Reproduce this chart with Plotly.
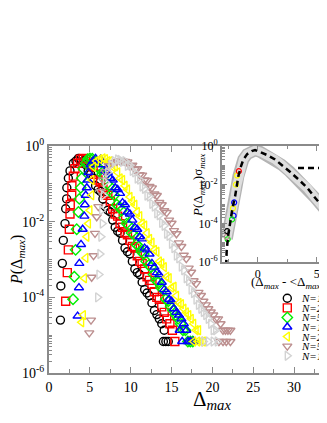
import plotly.graph_objects as go

# distribution of the largest gap Delta_max, one list of (Delta_max, P) per system size
n100 = [(1.40, 2.5e-5), (1.45, 2.0e-4), (1.63, 7.9e-4), (1.75, 3.2e-3), (1.96, 8.9e-3), (2.04, 2.2e-2),
        (2.16, 4.0e-2), (2.18, 7.9e-2), (2.37, 1.4e-1), (2.57, 2.2e-1), (2.98, 3.5e-1), (3.30, 4.0e-1),
        (3.60, 4.7e-1), (3.9, 4.5e-1), (4.2, 4.0e-1), (4.5, 3.2e-1), (4.8, 2.2e-1), (5.1, 1.8e-1),
        (5.4, 1.4e-1), (5.7, 8.9e-2), (6.0, 7.1e-2), (6.3, 6.3e-2), (6.6, 4.0e-2), (6.9, 2.5e-2),
        (7.2, 2.0e-2), (7.5, 1.8e-2), (7.8, 1.1e-2), (8.1, 7.1e-3), (8.4, 5.6e-3), (8.7, 5.0e-3),
        (9.0, 3.2e-3), (9.3, 2.0e-3), (9.6, 1.6e-3), (9.9, 1.4e-3), (10.2, 8.9e-4), (10.5, 5.6e-4),
        (10.8, 4.5e-4), (11.1, 4.0e-4), (11.4, 2.5e-4), (11.7, 1.6e-4), (12.0, 1.3e-4), (12.3, 1.1e-4),
        (12.6, 7.1e-5), (12.9, 4.5e-5), (13.2, 3.5e-5), (13.5, 2.7e-5), (13.8, 2.0e-5), (14.1, 1.35e-5),
        (14.0, 6.8e-6), (14.3, 6.8e-6), (14.6, 6.8e-6)]

n200 = [(2.04, 7.9e-5), (2.24, 4.5e-4), (2.37, 1.8e-3), (2.49, 6.3e-3), (2.57, 1.6e-2), (2.60, 2.8e-2),
        (2.78, 5.0e-2), (2.80, 8.9e-2), (2.98, 1.6e-1), (3.18, 2.5e-1), (3.50, 3.5e-1), (3.85, 4.5e-1),
        (4.20, 4.7e-1), (4.5, 4.5e-1), (4.8, 3.5e-1), (5.1, 3.2e-1), (5.4, 2.8e-1), (5.7, 1.8e-1),
        (6.0, 1.26e-1), (6.3, 1.12e-1), (6.6, 7.9e-2), (6.9, 5.6e-2), (7.2, 5.0e-2), (7.5, 3.5e-2),
        (7.8, 2.2e-2), (8.1, 1.6e-2), (8.4, 1.4e-2), (8.7, 8.9e-3), (9.0, 7.1e-3), (9.3, 5.0e-3),
        (9.6, 4.5e-3), (9.9, 3.2e-3), (10.2, 2.2e-3), (10.5, 2.0e-3), (10.8, 1.26e-3), (11.1, 8.9e-4),
        (11.4, 7.9e-4), (11.7, 5.6e-4), (12.0, 3.5e-4), (12.3, 2.8e-4), (12.6, 2.2e-4), (12.9, 1.4e-4),
        (13.2, 1.0e-4), (13.5, 8.9e-5), (13.8, 5.6e-5), (14.1, 4.0e-5), (14.4, 2.7e-5), (14.8, 2.0e-5),
        (15.1, 1.35e-5), (15.4, 6.8e-6)]

n500 = [(2.94, 8.9e-5), (3.10, 3.5e-4), (3.26, 1.8e-3), (3.39, 6.3e-3), (3.60, 1.8e-2), (3.71, 4.0e-2),
        (3.88, 7.9e-2), (4.00, 1.4e-1), (4.20, 2.5e-1), (4.50, 3.5e-1), (4.75, 4.5e-1), (5.00, 4.7e-1),
        (5.3, 4.6e-1), (5.6, 4.0e-1), (5.9, 2.8e-1), (6.2, 2.5e-1), (6.5, 1.8e-1), (6.8, 1.6e-1),
        (7.1, 1.0e-1), (7.4, 8.9e-2), (7.7, 5.6e-2), (8.0, 5.0e-2), (8.3, 2.8e-2), (8.6, 2.5e-2),
        (8.9, 2.0e-2), (9.2, 1.26e-2), (9.5, 8.9e-3), (9.8, 7.9e-3), (10.1, 5.0e-3), (10.4, 4.5e-3),
        (10.7, 2.5e-3), (11.0, 2.2e-3), (11.3, 1.6e-3), (11.6, 1.4e-3), (11.9, 8.9e-4), (12.2, 7.1e-4),
        (12.5, 6.3e-4), (12.8, 4.0e-4), (13.1, 2.8e-4), (13.4, 2.5e-4), (13.7, 1.8e-4), (14.0, 1.6e-4),
        (14.3, 8.9e-5), (14.6, 7.9e-5), (14.9, 5.6e-5), (15.2, 4.5e-5), (15.5, 3.4e-5), (15.8, 2.7e-5),
        (16.1, 2.0e-5), (16.4, 1.35e-5), (16.7, 1.35e-5), (17.0, 6.8e-6), (17.3, 6.8e-6), (17.6, 6.8e-6)]

n1000 = [(3.50, 3.2e-5), (3.67, 1.8e-4), (3.71, 7.9e-4), (3.92, 2.5e-3), (4.12, 6.3e-3), (4.33, 1.4e-2),
         (4.40, 2.8e-2), (4.50, 5.0e-2), (4.63, 7.9e-2), (4.72, 1.26e-1), (4.82, 2.0e-1), (5.10, 3.2e-1),
         (5.40, 4.0e-1), (5.70, 4.7e-1), (6.0, 4.0e-1), (6.3, 4.5e-1), (6.6, 3.2e-1), (6.9, 2.2e-1),
         (7.2, 2.0e-1), (7.5, 1.4e-1), (7.8, 1.26e-1), (8.1, 7.9e-2), (8.4, 7.1e-2), (8.7, 5.6e-2),
         (9.0, 3.2e-2), (9.3, 2.8e-2), (9.6, 1.8e-2), (9.9, 1.6e-2), (10.2, 1.1e-2), (10.5, 7.1e-3),
         (10.8, 6.3e-3), (11.1, 4.0e-3), (11.4, 3.5e-3), (11.7, 2.0e-3), (12.0, 1.8e-3), (12.3, 1.4e-3),
         (12.6, 7.9e-4), (12.9, 6.3e-4), (13.2, 4.5e-4), (13.5, 4.0e-4), (13.8, 2.5e-4), (14.1, 1.6e-4),
         (14.4, 1.4e-4), (14.7, 8.9e-5), (15.0, 7.9e-5), (15.3, 5.0e-5), (15.6, 4.0e-5), (15.9, 3.4e-5),
         (16.2, 2.7e-5), (16.5, 2.0e-5), (16.0, 1.35e-5), (16.8, 1.35e-5), (16.3, 6.8e-6), (17.0, 6.8e-6),
         (17.3, 6.8e-6), (17.7, 6.8e-6)]

n2000 = [(3.99, 2.2e-5), (4.20, 3.4e-5), (4.33, 3.2e-4), (4.50, 1.1e-3), (4.62, 4.0e-3), (4.82, 8.9e-3),
         (5.00, 2.0e-2), (5.22, 5.0e-2), (5.25, 1.26e-1), (5.43, 2.8e-1), (5.80, 4.0e-1), (6.20, 4.5e-1),
         (6.60, 4.7e-1), (6.9, 4.5e-1), (7.2, 4.0e-1), (7.5, 4.0e-1), (7.8, 2.8e-1), (8.1, 2.9e-1),
         (8.4, 2.0e-1), (8.7, 1.4e-1), (9.0, 1.26e-1), (9.3, 8.9e-2), (9.6, 7.1e-2), (9.9, 4.5e-2),
         (10.2, 3.5e-2), (10.5, 2.8e-2), (10.8, 1.8e-2), (11.1, 1.4e-2), (11.4, 8.9e-3), (11.7, 7.9e-3),
         (12.0, 5.0e-3), (12.3, 3.5e-3), (12.6, 2.8e-3), (12.9, 1.8e-3), (13.2, 1.6e-3), (13.5, 8.9e-4),
         (13.8, 7.9e-4), (14.1, 6.3e-4), (14.4, 3.5e-4), (14.7, 3.2e-4), (15.0, 1.8e-4), (15.3, 1.9e-4),
         (15.6, 1.1e-4), (15.9, 7.1e-5), (16.2, 6.6e-5), (16.5, 5.0e-5), (16.8, 4.0e-5), (17.1, 3.4e-5),
         (17.4, 2.7e-5), (17.7, 2.0e-5), (18.0, 1.35e-5), (18.3, 1.35e-5), (17.7, 6.8e-6), (18.2, 6.8e-6),
         (18.6, 6.8e-6), (18.9, 6.8e-6)]

n5000 = [(4.93, 1.15e-5), (5.14, 2.5e-5), (5.22, 3.4e-4), (5.45, 1.26e-3), (5.63, 4.9e-3), (5.84, 1.35e-2),
         (6.04, 2.5e-2), (6.30, 6.3e-2), (6.60, 1.26e-1), (6.90, 2.1e-1), (7.30, 3.0e-1), (7.80, 3.6e-1),
         (8.30, 3.9e-1), (8.70, 4.0e-1), (9.0, 4.0e-1), (9.3, 3.9e-1), (9.6, 3.8e-1), (9.9, 3.0e-1),
         (10.2, 3.1e-1), (10.5, 2.4e-1), (10.8, 2.5e-1), (11.1, 1.74e-1), (11.4, 1.7e-1), (11.7, 1.26e-1),
         (12.0, 1.23e-1), (12.3, 8.5e-2), (12.6, 7.8e-2), (12.9, 5.4e-2), (13.2, 4.9e-2), (13.5, 3.2e-2),
         (13.8, 2.8e-2), (14.1, 1.95e-2), (14.4, 1.74e-2), (14.7, 1.1e-2), (15.0, 9.1e-3), (15.3, 5.8e-3),
         (15.6, 4.8e-3), (15.9, 2.75e-3), (16.2, 2.2e-3), (16.5, 1.3e-3), (16.8, 1.05e-3), (17.1, 5.9e-4),
         (17.4, 4.6e-4), (17.7, 2.75e-4), (18.0, 2.3e-4), (18.3, 1.35e-4), (18.6, 1.12e-4), (18.9, 7.9e-5),
         (19.2, 6.3e-5), (19.5, 5.0e-5), (19.8, 4.1e-5), (20.1, 3.4e-5), (20.4, 2.7e-5), (20.7, 2.7e-5),
         (21.0, 2.0e-5), (21.3, 1.35e-5), (21.6, 1.35e-5), (21.9, 1.35e-5), (22.2, 1.35e-5),
         (20.8, 6.8e-6), (21.3, 6.8e-6), (21.7, 6.8e-6), (22.2, 6.8e-6)]

n10000 = [(5.96, 1.0e-4), (6.12, 4.0e-4), (6.24, 1.4e-3), (6.36, 4.0e-3), (6.53, 8.9e-3), (6.45, 2.0e-2),
          (6.65, 5.0e-2), (6.90, 1.1e-1), (7.20, 2.0e-1), (7.60, 3.2e-1), (8.00, 4.0e-1), (8.40, 4.4e-1),
          (8.7, 4.3e-1), (9.0, 3.8e-1), (9.3, 4.0e-1), (9.6, 3.0e-1), (9.9, 3.1e-1), (10.2, 2.2e-1),
          (10.5, 2.0e-1), (10.8, 1.38e-1), (11.1, 1.29e-1), (11.4, 8.5e-2), (11.7, 7.4e-2), (12.0, 4.9e-2),
          (12.3, 4.6e-2), (12.6, 2.95e-2), (12.9, 2.5e-2), (13.2, 1.66e-2), (13.5, 1.48e-2), (13.8, 9.3e-3),
          (14.1, 7.8e-3), (14.4, 4.8e-3), (14.7, 4.2e-3), (15.0, 2.6e-3), (15.3, 2.0e-3), (15.6, 1.26e-3),
          (15.9, 1.07e-3), (16.2, 6.5e-4), (16.5, 5.2e-4), (16.8, 3.2e-4), (17.1, 2.7e-4), (17.4, 1.6e-4),
          (17.7, 1.3e-4), (18.0, 8.7e-5), (18.3, 6.3e-5), (18.6, 5.0e-5), (18.9, 4.1e-5), (19.2, 3.4e-5),
          (19.5, 2.7e-5), (19.8, 2.0e-5), (20.1, 1.35e-5), (20.4, 1.35e-5), (18.9, 6.8e-6), (19.5, 6.8e-6),
          (20.1, 6.8e-6), (20.6, 6.8e-6)]

# inset: collapsed data (grey band) and Gumbel curve, x = (Delta_max - <Delta_max>)/sigma_max
collapse = [(-2.62, 1.6e-5), (-2.50, 3.2e-5), (-2.35, 1.1e-4), (-2.15, 5.6e-4), (-1.92, 2.5e-3),
            (-1.78, 8.9e-3), (-1.64, 2.8e-2), (-1.45, 7.9e-2), (-1.22, 2.0e-1), (-0.90, 3.8e-1),
            (-0.51, 5.6e-1), (-0.23, 6.0e-1), (0.20, 5.0e-1), (0.80, 3.4e-1), (1.47, 2.0e-1),
            (2.00, 1.1e-1), (2.70, 4.8e-2), (3.44, 1.9e-2), (4.20, 6.6e-3), (4.86, 2.1e-3),
            (5.85, 4.1e-4), (6.50, 1.4e-4)]
gumbel = [(-2.68, 6.3e-7), (-2.63, 4.2e-6), (-2.50, 2.5e-5), (-2.35, 1.0e-4), (-2.15, 5.6e-4),
          (-1.92, 2.5e-3), (-1.78, 8.9e-3), (-1.64, 2.8e-2), (-1.45, 7.9e-2), (-1.22, 2.0e-1),
          (-0.90, 3.8e-1), (-0.51, 5.5e-1), (-0.23, 6.2e-1), (0.20, 5.0e-1), (0.80, 3.4e-1),
          (1.47, 2.0e-1), (2.00, 1.1e-1), (2.70, 4.8e-2), (3.44, 1.9e-2), (4.20, 6.8e-3),
          (4.86, 2.1e-3), (5.85, 4.1e-4), (6.50, 1.4e-4)]
# a few points of single sizes visible outside the band (x, P, series index)
inset_pts = [(-2.00, 1.2e-3, 3), (-2.05, 2.5e-4, 3), (-2.55, 1.5e-5, 2), (-2.18, 1.6e-4, 2),
             (-1.85, 1.0e-2, 4), (-1.75, 3.0e-2, 4), (-2.10, 6.0e-4, 4), (-1.60, 5.0e-2, 1),
             (-2.63, 2.0e-5, 5), (-2.60, 4.0e-5, 0)]

names = ["N=100", "N=200", "N=500", "N=1000", "N=2000", "N=5000", "N=10000"]
symbols = ["circle-open", "square-open", "diamond-open", "triangle-up-open",
           "triangle-left-open", "triangle-down-open", "triangle-right-open"]
colors = ["black", "#ff0000", "#00ee00", "#0000ff", "#ffff00", "#bc8f8f", "#d3d3d3"]
all_series = [n100, n200, n500, n1000, n2000, n5000, n10000]

serif = "Liberation Serif"
axcol = "#8a8a8a"

# the page body adds an 8 px margin all round, so the figure is drawn 8 px in and
# kept short enough that the page never scrolls
OFF = 8
W, H = 327 - OFF, 423 - 2 * OFF
L, T = 49 - OFF, 146 - OFF
B = H - (373 - OFF)
PW, PH = W - L, H - T - B


def fx(px):
    # window pixel -> paper x
    return (px - OFF - L) / PW


def fy(py):
    # window pixel -> paper y
    return (H - B - (py - OFF)) / PH


fig = go.Figure()

for name, pts, sym, col in zip(names, all_series, symbols, colors):
    xs, ps = zip(*pts)
    fig.add_trace(go.Scatter(x=xs, y=ps, mode="markers", name=name, showlegend=False,
                             marker=dict(symbol=sym, size=8, color=col, line=dict(width=1.4, color=col))))

# inset
cx, cp = zip(*collapse)
fig.add_trace(go.Scatter(x=cx, y=cp, mode="lines", line=dict(color="#b4b4b4", width=12),
                         xaxis="x2", yaxis="y2", showlegend=False))
fig.add_trace(go.Scatter(x=cx, y=cp, mode="lines", line=dict(color="#dedede", width=9),
                         xaxis="x2", yaxis="y2", showlegend=False))
ix, ip, ic = zip(*inset_pts)
fig.add_trace(go.Scatter(x=ix, y=ip, mode="markers", xaxis="x2", yaxis="y2", showlegend=False,
                         marker=dict(symbol="circle-open", size=5, color=[colors[i] for i in ic],
                                     line=dict(width=1.2))))
gx, gp = zip(*gumbel)
fig.add_trace(go.Scatter(x=gx, y=gp, mode="lines", line=dict(color="black", width=2.5, dash="6px,4px"),
                         xaxis="x2", yaxis="y2", showlegend=False, name="Gumbel"))

# legend keys drawn on an overlay axis scaled in window pixels
leg_rows = [298.3 + 9.57 * i for i in range(len(names))]
fig.add_trace(go.Scatter(x=[287.3] * len(names), y=leg_rows, mode="markers", xaxis="x3", yaxis="y3",
                         showlegend=False, cliponaxis=False,
                         marker=dict(symbol=symbols, size=8, color=colors, line=dict(width=1.4))))

even_dec = [1e-6, 1e-4, 1e-2, 1.0]
dec_text = ["10<sup>-6</sup>", "10<sup>-4</sup>", "10<sup>-2</sup>", "10<sup>0</sup>"]
minor_log = [m * 10.0 ** k for k in range(-6, 0) for m in range(2, 10)] + [1e-5, 1e-3, 1e-1]

common = dict(showgrid=False, zeroline=False, showline=True, linecolor=axcol, linewidth=2,
              ticks="inside", tickcolor=axcol, tickwidth=1.2)

fig.update_layout(
    width=W, height=H,
    margin=dict(l=L, r=0, t=T, b=B),
    paper_bgcolor="white", plot_bgcolor="white",
    showlegend=False,
    font=dict(family=serif, color="black"),
    xaxis=dict(domain=[0, 1], range=[0, PW / 8.17], tickvals=[0, 5, 10, 15, 20, 25, 30],
               ticklen=6, mirror="ticks", tickfont=dict(size=14),
               minor=dict(tickvals=[2.5, 7.5, 12.5, 17.5, 22.5, 27.5, 32.5], ticks="inside",
                          ticklen=4, tickcolor=axcol), **common),
    yaxis=dict(domain=[0, 1], type="log", range=[-6, 0], tickvals=even_dec, ticktext=dec_text,
               ticklen=6, tickfont=dict(size=14), mirror=False,
               minor=dict(tickvals=minor_log, ticks="inside", ticklen=3, tickcolor=axcol), **common),
    xaxis2=dict(domain=[fx(222), 1], range=[-3.03, 5.87], anchor="y2", tickvals=[0, 5],
                ticklen=5, mirror="ticks", tickfont=dict(size=12),
                minor=dict(tickvals=[-2.5, 2.5], ticks="inside", ticklen=3, tickcolor=axcol), **common),
    yaxis2=dict(domain=[fy(262), 1], type="log", range=[-6, 0], anchor="x2", tickvals=even_dec,
                ticktext=dec_text, ticklen=5, tickfont=dict(size=12), mirror=False,
                minor=dict(tickvals=minor_log, ticks="inside", ticklen=3, tickcolor=axcol), **common),
    xaxis3=dict(domain=[0, 1], range=[L + OFF, W + OFF], overlaying="x", visible=False, anchor="y3"),
    yaxis3=dict(domain=[0, 1], range=[H - B + OFF, T + OFF], overlaying="y", visible=False, anchor="x3"),
)

ann = [
    dict(text="<i>P</i>(Δ<sub><i>max</i></sub>)", x=fx(17), y=fy(260), textangle=-90,
         xanchor="center", font=dict(size=16)),
    dict(text="Δ<sub><i>max</i></sub>", x=fx(212), y=fy(400), xanchor="center", font=dict(size=21)),
    dict(text="<i>P</i>(Δ<sub><i>max</i></sub>)σ<sub><i>max</i></sub>", x=fx(198), y=fy(186),
         textangle=-90, xanchor="center", font=dict(size=13)),
    dict(text="(Δ<sub><i>max</i></sub> - &lt;Δ<sub><i>max</i></sub>&gt;)/σ<sub><i>max</i></sub>",
         x=fx(249), y=fy(282), xanchor="left", font=dict(size=13)),
    dict(text="Gumbel", x=fx(320), y=fy(168), xanchor="left", font=dict(size=13)),
]
for name, ry in zip(names, leg_rows):
    ann.append(dict(text="<i>" + name + "</i>", x=fx(299), y=fy(ry), xanchor="left", font=dict(size=11)))
for a in ann:
    a.update(xref="paper", yref="paper", showarrow=False, yanchor="middle")
    fig.add_annotation(**a)

fig.add_shape(type="line", xref="paper", yref="paper", x0=fx(298), x1=fx(319), y0=fy(168), y1=fy(168),
              line=dict(color="black", width=2.5, dash="6px,4px"))

fig.write_html("out.html")
